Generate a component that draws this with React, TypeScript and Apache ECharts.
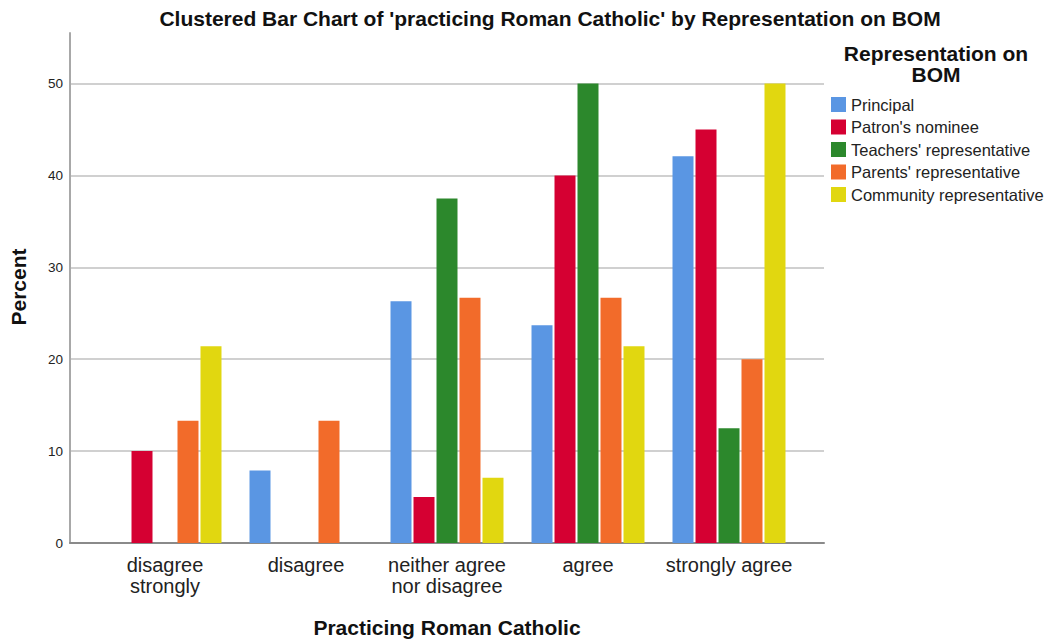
import React, { useEffect, useRef } from "react";
import * as echarts from "echarts";

const categories = ["disagree\nstrongly", "disagree", "neither agree\nnor disagree", "agree", "strongly agree"];
const seriesNames = [
  "Principal",
  "Patron's nominee",
  "Teachers' representative",
  "Parents' representative",
  "Community representative",
];
const principal = [0, 7.9, 26.3, 23.7, 42.1];
const patronsNominee = [10, 0, 5, 40, 45];
const teachersRep = [0, 0, 37.5, 50, 12.5];
const parentsRep = [13.3, 13.3, 26.7, 26.7, 20];
const communityRep = [21.4, 0, 7.1, 21.4, 50];
const seriesValues = [principal, patronsNominee, teachersRep, parentsRep, communityRep];
const seriesColors = ["#5A96E3", "#D50032", "#2C882C", "#F26B2A", "#E1D710"];
const yTicks = [0, 10, 20, 30, 40, 50];

const titleText = "Clustered Bar Chart of 'practicing Roman Catholic' by Representation on BOM";
const xTitle = "Practicing Roman Catholic";
const yTitle = "Percent";
const legendTitleLines = ["Representation on", "BOM"];

const FONT = "'Liberation Sans', Arial, sans-serif";

export default function App() {
  const ref = useRef<HTMLDivElement>(null);
  useEffect(() => {
    if (!ref.current) return;
    const chart = echarts.init(ref.current, null, { renderer: "svg" });
    const yMax = 55.5;
    const boldText = (text: string, x: number, y: number, extra: any = {}) => ({
      type: "text",
      x,
      y,
      ...extra,
      style: {
        text,
        fontSize: 21,
        fontWeight: "bold",
        fill: "#111",
        textAlign: "center",
        textVerticalAlign: "middle",
        fontFamily: FONT,
      },
    });
    chart.setOption({
      animation: false,
      backgroundColor: "#ffffff",
      textStyle: { fontFamily: FONT },
      grid: [
        { left: 70, right: 228, top: 33, bottom: 100 },
        { left: 94.5, right: 252.5, top: 33, bottom: 100 },
      ],
      xAxis: [
        {
          gridIndex: 0,
          type: "value",
          min: 0,
          max: 1,
          axisLine: { show: true, onZero: false, lineStyle: { color: "#8a8a8a", width: 2 } },
          axisTick: { show: false },
          axisLabel: { show: false },
          splitLine: { show: false },
        },
        {
          gridIndex: 1,
          type: "category",
          data: categories,
          axisLine: { show: false },
          axisTick: { show: false },
          axisLabel: {
            interval: 0,
            fontSize: 20,
            color: "#222",
            margin: 11,
            lineHeight: 21,
            fontFamily: FONT,
          },
        },
      ],
      yAxis: [
        {
          gridIndex: 0,
          type: "value",
          min: 0,
          max: yMax,
          interval: 10,
          axisLine: { show: true, lineStyle: { color: "#a8a8a8", width: 2 } },
          axisTick: { show: false },
          axisLabel: {
            fontSize: 13.5,
            color: "#222",
            margin: 7,
            showMaxLabel: false,
            fontFamily: FONT,
            formatter: (v: number) => (yTicks.indexOf(v) >= 0 ? String(v) : ""),
          },
          splitLine: {
            show: true,
            showMinLine: false,
            showMaxLine: false,
            lineStyle: { color: "#d0d0d0", width: 2 },
          },
        },
        {
          gridIndex: 1,
          type: "value",
          min: 0,
          max: yMax,
          show: false,
          splitLine: { show: false },
        },
      ],
      legend: {
        orient: "vertical",
        left: 826,
        top: 91,
        itemWidth: 15,
        itemHeight: 15,
        itemGap: 5.5,
        itemTextGap: 5,
        icon: "rect",
        data: seriesNames,
        textStyle: { fontSize: 16.5, color: "#222", lineHeight: 17, fontFamily: FONT },
      },
      series: seriesNames.map((name, i) => ({
        name,
        type: "bar",
        xAxisIndex: 1,
        yAxisIndex: 1,
        data: seriesValues[i],
        barWidth: 21,
        barGap: "9.5%",
        itemStyle: { color: seriesColors[i] },
      })),
      graphic: [
        boldText(titleText, 550, 18),
        boldText(xTitle, 447, 627),
        boldText(yTitle, 18, 287, { rotation: Math.PI / 2 }),
        boldText(legendTitleLines[0], 936, 53.5),
        boldText(legendTitleLines[1], 936, 74.5),
      ],
    });
    return () => chart.dispose();
  }, []);
  return (
    <div
      ref={ref}
      style={{ position: "absolute", left: 0, top: 0, width: 1052, height: 643 }}
    />
  );
}
